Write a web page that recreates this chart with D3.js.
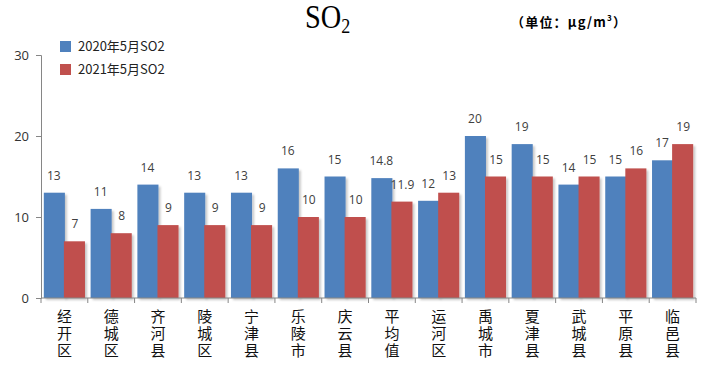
<!DOCTYPE html>
<html>
<head>
<meta charset="utf-8">
<script src="https://cdn.jsdelivr.net/npm/d3@7"></script>
<style>
  body { margin: 0; background: #fff; }
  svg { display: block; }
</style>
</head>
<body>
<div id="chart"></div>
<script>
// data
const districts = ["经开区", "德城区", "齐河县", "陵城区", "宁津县", "乐陵市", "庆云县",
                   "平均值", "运河区", "禹城市", "夏津县", "武城县", "平原县", "临邑县"]
const so2May2020 = [13, 11, 14, 13, 13, 16, 15, 14.8, 12, 20, 19, 14, 15, 17]
const so2May2021 = [7, 8, 9, 9, 9, 10, 10, 11.9, 13, 15, 15, 15, 16, 19]
const seriesNames = ["2020年5月SO2", "2021年5月SO2"]
const yTicks = [0, 10, 20, 30]

const W = 717, H = 378
const m = { left: 41, right: 21, top: 55, bottom: 80 }
const colors = ["#4F81BD", "#C0504D"]

const svg = d3.select("#chart").append("svg").attr("width", W).attr("height", H)

const defs = svg.append("defs")
const f = defs.append("filter").attr("id", "sh").attr("x", "-20%").attr("y", "-10%")
  .attr("width", "150%").attr("height", "130%")
f.append("feDropShadow").attr("dx", 2).attr("dy", 2).attr("stdDeviation", 1.2)
  .attr("flood-color", "#000").attr("flood-opacity", 0.22)

const x = d3.scaleBand().domain(districts).range([m.left, W - m.right])
  .paddingInner(0).paddingOuter(0)
const inner = d3.scaleBand().domain([0, 1]).range([0, x.bandwidth()])
  .paddingInner(0).paddingOuter(0.11)
const y = d3.scaleLinear().domain([0, 30]).range([H - m.bottom, m.top])

// bars
const groups = svg.selectAll("g.grp").data(districts).enter().append("g")
  .attr("class", "grp")
  .attr("transform", d => `translate(${x(d)},0)`)

const rows = districts.map((d, i) => [so2May2020[i], so2May2021[i]])

groups.selectAll("rect").data((d, i) => rows[i]).enter().append("rect")
  .attr("x", (v, j) => inner(j) + (j === 0 ? 0.5 : -0.5))
  .attr("y", v => y(v))
  .attr("width", inner.bandwidth())
  .attr("height", v => y(0) - y(v))
  .attr("fill", (v, j) => colors[j])
  .attr("filter", "url(#sh)")

groups.selectAll("text").data((d, i) => rows[i]).enter().append("text")
  .attr("x", (v, j) => inner(j) + inner.bandwidth() / 2)
  .attr("y", v => y(v) - 13)
  .attr("text-anchor", "middle")
  .attr("font-family", "Open Sans, sans-serif")
  .attr("font-size", 12)
  .attr("fill", "#404040")
  .text(v => v)

// y axis
const yAxis = svg.append("g").attr("transform", `translate(${m.left},0)`)
  .call(d3.axisLeft(y).tickValues(yTicks).tickSize(5).tickPadding(7))
yAxis.select(".domain").attr("stroke", "#868686")
yAxis.selectAll(".tick line").attr("stroke", "#868686")
yAxis.selectAll(".tick text").attr("font-family", "Open Sans, sans-serif")
  .attr("font-size", 13).attr("fill", "#333")

// x axis
const xAxis = svg.append("g").attr("transform", `translate(0,${y(0)})`)
xAxis.append("line").attr("x1", m.left).attr("x2", W - m.right)
  .attr("stroke", "#868686")
xAxis.selectAll("line.tk").data(districts.concat([null])).enter().append("line")
  .attr("class", "tk")
  .attr("x1", (d, i) => i < districts.length ? x(d) : x.range()[1])
  .attr("x2", (d, i) => i < districts.length ? x(d) : x.range()[1])
  .attr("y1", 0).attr("y2", 5)
  .attr("stroke", "#868686")

// vertical category names
xAxis.selectAll("text.cat").data(districts).enter().append("text")
  .attr("class", "cat")
  .attr("x", d => x(d) + x.bandwidth() / 2)
  .attr("y", 11)
  .style("writing-mode", "vertical-rl")
  .style("text-orientation", "upright")
  .attr("letter-spacing", 2)
  .attr("font-family", "Noto Sans CJK SC, sans-serif")
  .attr("font-size", 15)
  .attr("fill", "#111")
  .text(d => d)

// legend
const leg = svg.append("g")
seriesNames.forEach((s, j) => {
  leg.append("rect").attr("x", 60).attr("y", 41 + j * 23).attr("width", 11).attr("height", 11)
    .attr("fill", colors[j])
  leg.append("text").attr("x", 78).attr("y", 51 + j * 23)
    .attr("font-family", "Noto Sans CJK SC, sans-serif")
    .attr("font-size", 13).attr("fill", "#222").text(s)
})

// title
const t = svg.append("text").attr("transform", "translate(305,28) scale(0.86,1)")
  .attr("font-family", "Liberation Serif, serif").attr("font-size", 33).attr("fill", "#000")
t.append("tspan").text("SO")
t.append("tspan").attr("font-size", 21).attr("dy", 5).text("2")

const u = svg.append("text").attr("x", 511).attr("y", 27)
  .attr("font-family", "Noto Sans CJK SC, serif").attr("font-size", 13)
  .attr("font-weight", "bold").attr("fill", "#000").attr("letter-spacing", 1.2)
u.append("tspan").text("（单位：μg/m")
u.append("tspan").attr("font-size", 8).attr("dy", -6).text("3")
u.append("tspan").attr("dy", 6).text("）")
</script>
</body>
</html>
